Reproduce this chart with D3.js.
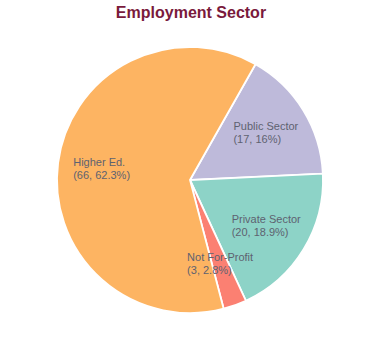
<!DOCTYPE html>
<html>
<head>
<meta charset="utf-8">
<script src="https://cdn.jsdelivr.net/npm/d3@7"></script>
<style>
  html, body { margin: 0; padding: 0; background: #fff; }
  svg { display: block; }
</style>
</head>
<body>
<svg id="chart" width="380" height="360"></svg>
<script>
const categories = ["Public Sector", "Private Sector", "Not For-Profit", "Higher Ed."];
const values = [17, 20, 3, 66];
const colors = ["#bebada", "#8dd3c7", "#fb8072", "#fdb462"];
const title = "Employment Sector";

const svg = d3.select("#chart");
const cx = 190, cy = 180, R = 133;

svg.append("text")
  .attr("x", 191).attr("y", 18)
  .attr("text-anchor", "middle")
  .attr("font-family", "'Liberation Sans', Arial, sans-serif")
  .attr("font-size", 16).attr("font-weight", "bold")
  .attr("fill", "#7a1a3c")
  .text(title);

const total = d3.sum(values);
const start = 29.5 * Math.PI / 180;
const pie = d3.pie().sort(null).startAngle(start).endAngle(start + 2 * Math.PI);
const arcs = pie(values);
const arc = d3.arc().innerRadius(0).outerRadius(R);
const labelArc = d3.arc().innerRadius(R * 0.67).outerRadius(R * 0.67);

const g = svg.append("g").attr("transform", `translate(${cx},${cy})`);
g.selectAll("path").data(arcs).join("path")
  .attr("d", arc)
  .attr("fill", (d, i) => colors[i])
  .attr("stroke", "#fff")
  .attr("stroke-width", 1.8);

const fmt = v => d3.format(".1f")(v).replace(/\.0$/, "");

arcs.forEach((d, i) => {
  const [lx, ly] = labelArc.centroid(d);
  const t = g.append("text")
    .attr("font-family", "'Liberation Sans', Arial, sans-serif")
    .attr("font-size", 11)
    .attr("fill", "#5e6270");
  const l1 = t.append("tspan").text(categories[i]);
  const l2 = t.append("tspan").text(`(${values[i]}, ${fmt(values[i] / total * 100)}%)`);
  const w = Math.max(l1.node().getComputedTextLength(), l2.node().getComputedTextLength());
  const x0 = lx - w / 2;
  l1.attr("x", x0).attr("y", ly - 3);
  l2.attr("x", x0).attr("y", ly + 10);
});
</script>
</body>
</html>
